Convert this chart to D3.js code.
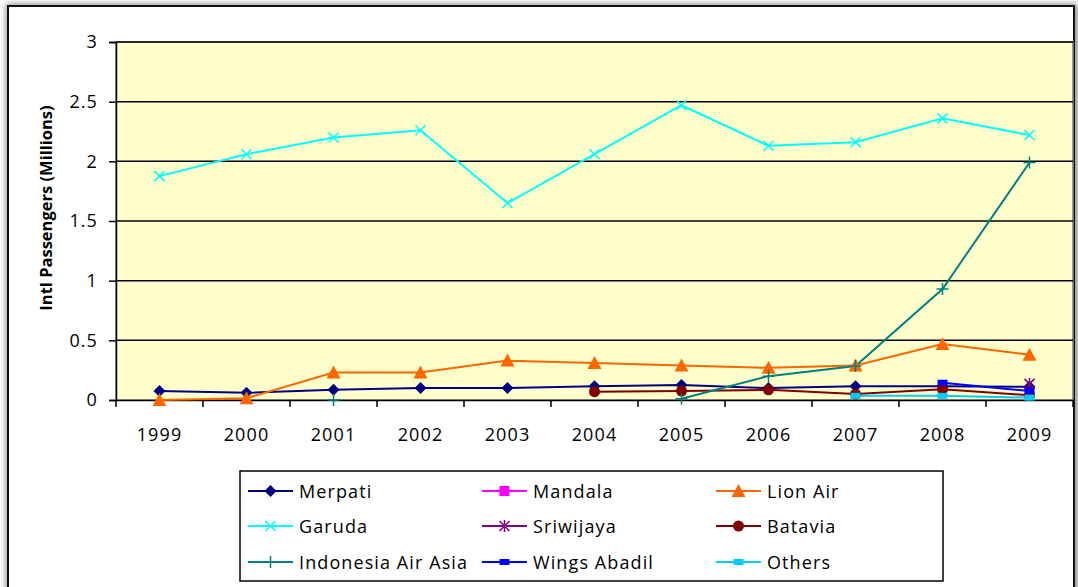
<!DOCTYPE html>
<html>
<head>
<meta charset="utf-8">
<script src="https://cdnjs.cloudflare.com/ajax/libs/d3/7.8.5/d3.min.js"></script>
<style>
  body { margin: 0; background: #fff; }
  svg text { font-family: "Open Sans", "DejaVu Sans", sans-serif; fill: #000; }
</style>
</head>
<body>
<div id="chartDiv"></div>
<script>
// years on the x axis
const years = ['1999','2000','2001','2002','2003','2004','2005','2006','2007','2008','2009'];
const yTicks = [0, 0.5, 1, 1.5, 2, 2.5, 3];

// passengers, millions (null = no data)
const merpati   = [0.075, 0.06, 0.085, 0.10, 0.10, 0.115, 0.125, 0.10, 0.115, 0.115, 0.11];
const mandala   = [null, null, null, null, null, null, null, null, null, null, null];
const lionAir   = [0.0, 0.015, 0.23, 0.23, 0.33, 0.31, 0.29, 0.27, 0.29, 0.47, 0.38];
const garuda    = [1.876, 2.06, 2.20, 2.26, 1.65, 2.06, 2.47, 2.13, 2.16, 2.36, 2.22];
const sriwijaya = [null, null, null, null, null, null, null, null, null, null, 0.135];
const batavia   = [null, null, null, null, null, 0.07, 0.075, 0.085, 0.05, 0.09, 0.04];
const airAsia   = [null, null, 0.0, null, null, null, 0.01, 0.2, 0.285, 0.93, 1.99];
const wings     = [null, null, null, null, null, null, null, null, null, 0.145, 0.075];
const others    = [null, null, null, null, null, null, null, null, 0.035, 0.035, 0.02];

const series = [
  {name: 'Merpati', values: merpati, color: '#000080', marker: 'diamond'},
  {name: 'Mandala', values: mandala, color: '#FF00FF', marker: 'square'},
  {name: 'Lion Air', values: lionAir, color: '#FF6600', marker: 'triangle'},
  {name: 'Garuda', values: garuda, color: '#00FFFF', marker: 'x'},
  {name: 'Sriwijaya', values: sriwijaya, color: '#800080', marker: 'star'},
  {name: 'Batavia', values: batavia, color: '#800000', marker: 'circle'},
  {name: 'Indonesia Air Asia', values: airAsia, color: '#008080', marker: 'plus'},
  {name: 'Wings Abadil', values: wings, color: '#0000FF', marker: 'dash'},
  {name: 'Others', values: others, color: '#00CCFF', marker: 'dash'}
];

const W = 1078, H = 587;
const plot = {left: 116, right: 1073, top: 42, bottom: 400};
const fontSize = 18, spacing = 1.1;

const svg = d3.select('#chartDiv').append('svg').attr('width', W).attr('height', H);

// chart frame with soft shadow
const defs = svg.append('defs');
defs.append('filter').attr('id', 'shadow').attr('x', '-5%').attr('y', '-5%').attr('width', '110%').attr('height', '110%')
  .append('feGaussianBlur').attr('stdDeviation', 3);
svg.append('rect').attr('x', 6).attr('y', 4).attr('width', 1072).attr('height', 610)
  .attr('fill', '#8a8a8a').attr('filter', 'url(#shadow)');
svg.append('rect').attr('x', 8).attr('y', 6).attr('width', 1066).attr('height', 600)
  .attr('fill', '#fff').attr('stroke', '#111').attr('stroke-width', 2);

const x = d3.scaleBand().domain(years).range([plot.left, plot.right]);
const y = d3.scaleLinear().domain([0, 3]).range([plot.bottom, plot.top]);

svg.append('rect').attr('x', plot.left).attr('y', plot.top)
  .attr('width', plot.right - plot.left).attr('height', plot.bottom - plot.top)
  .attr('fill', '#FFFFCC').attr('stroke', '#808080').attr('stroke-width', 1.5);

// gridlines
svg.append('g').selectAll('line').data(yTicks.filter(d => d > 0)).join('line')
  .attr('x1', plot.left).attr('x2', plot.right)
  .attr('y1', d => y(d)).attr('y2', d => y(d))
  .attr('stroke', '#000').attr('stroke-width', 1.5);

// y axis
const yAxis = svg.append('g').attr('transform', `translate(${plot.left},0)`)
  .call(d3.axisLeft(y).tickValues(yTicks).tickSize(7).tickPadding(11).tickFormat(d3.format('')));
yAxis.select('.domain').attr('stroke', '#000').attr('stroke-width', 1.5);
yAxis.selectAll('.tick line').attr('stroke', '#000').attr('stroke-width', 1.5);
yAxis.selectAll('text').attr('font-size', fontSize).attr('letter-spacing', spacing)
  .attr('font-family', '"Open Sans", sans-serif');

// x axis
const xAxis = svg.append('g').attr('transform', `translate(0,${plot.bottom})`)
  .call(d3.axisBottom(x).tickSize(0).tickPadding(28));
xAxis.select('.domain').attr('stroke', '#000').attr('stroke-width', 1.5);
xAxis.selectAll('text').attr('font-size', fontSize).attr('letter-spacing', spacing)
  .attr('font-family', '"Open Sans", sans-serif');
const xBounds = years.map(d => x(d)).concat([plot.right]);
xAxis.selectAll('.bound').data(xBounds).join('line').attr('class', 'bound')
  .attr('x1', d => d).attr('x2', d => d).attr('y1', 0).attr('y2', 7)
  .attr('stroke', '#000').attr('stroke-width', 1.5);

svg.append('text')
  .attr('transform', `translate(52,208) rotate(-90)`)
  .attr('text-anchor', 'middle').attr('font-size', 16.5).attr('font-weight', 'bold')
  .text('Intl Passengers (Millions)');

function marker(g, type, color) {
  switch (type) {
    case 'diamond':
      g.append('path').attr('d', 'M0,-6L6,0L0,6L-6,0Z').attr('fill', color); break;
    case 'square':
      g.append('rect').attr('x', -5).attr('y', -5).attr('width', 10).attr('height', 10).attr('fill', color); break;
    case 'triangle':
      g.append('path').attr('d', 'M0,-7L7,6L-7,6Z').attr('fill', color); break;
    case 'circle':
      g.append('circle').attr('r', 5.5).attr('fill', color); break;
    case 'x':
      g.append('path').attr('d', 'M-5,-5L5,5M-5,5L5,-5').attr('stroke', color).attr('stroke-width', 1.5); break;
    case 'plus':
      g.append('path').attr('d', 'M-6,0L6,0M0,-6L0,6').attr('stroke', color).attr('stroke-width', 1.5); break;
    case 'star':
      g.append('path').attr('d', 'M-5,-5L5,5M-5,5L5,-5M0,-6L0,6').attr('stroke', color).attr('stroke-width', 1.5); break;
    case 'dash':
      g.append('rect').attr('x', -5).attr('y', -3).attr('width', 10).attr('height', 6).attr('fill', color); break;
  }
}

const cx = i => x(years[i]) + x.bandwidth() / 2;
const line = d3.line().defined(d => d != null).x((d, i) => cx(i)).y(d => y(d));

series.forEach(s => {
  svg.append('path').attr('d', line(s.values)).attr('fill', 'none')
    .attr('stroke', s.color).attr('stroke-width', 2);
});
series.forEach(s => {
  s.values.forEach((v, i) => {
    if (v == null) return;
    marker(svg.append('g').attr('transform', `translate(${cx(i)},${y(v)})`), s.marker, s.color);
  });
});

// legend
const leg = svg.append('g');
leg.append('rect').attr('x', 240).attr('y', 471).attr('width', 703).attr('height', 110)
  .attr('fill', '#fff').attr('stroke', '#000').attr('stroke-width', 1.5);
const colX = [248, 482, 716], rowY = [491, 526, 562];
series.forEach((s, i) => {
  const g = leg.append('g').attr('transform', `translate(${colX[i % 3]},${rowY[Math.floor(i / 3)]})`);
  g.append('line').attr('x1', 0).attr('x2', 45).attr('stroke', s.color).attr('stroke-width', 2);
  marker(g.append('g').attr('transform', 'translate(22.5,0)'), s.marker, s.color);
  g.append('text').attr('x', 51).attr('y', 6.5).attr('font-size', fontSize)
    .attr('letter-spacing', spacing).text(s.name);
});
</script>
</body>
</html>
